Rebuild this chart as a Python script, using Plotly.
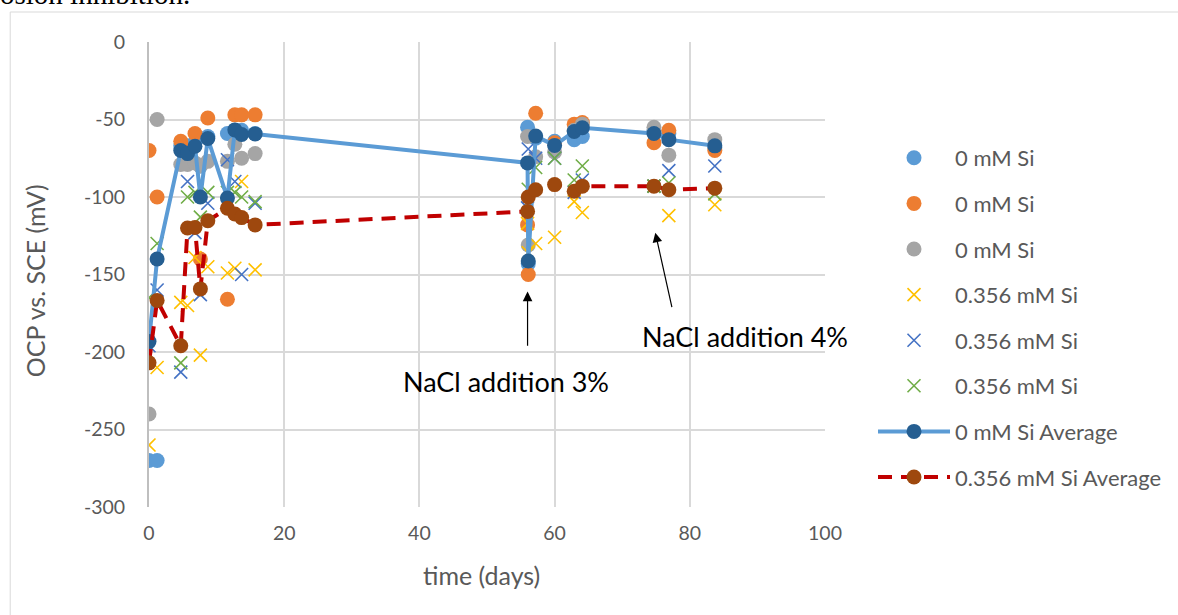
import plotly.graph_objects as go

# Measurement times (days)
days = [0, 1.2, 4.7, 5.7, 6.8, 7.6, 8.7, 11.6, 12.7, 13.7, 15.7,
        56.0, 56.1, 57.2, 60.0, 62.9, 64.1, 74.7, 76.9, 83.7]

# Open-circuit potential (mV vs. SCE), 0 mM Si replicates
si0_rep1 = [-270, -270, -67, -67, -65, -80, -61, -59, -57, -57, -59,
            -55, -143, -62, -64, -63, -61, -57, -59, -68]
si0_rep2 = [-70, -100, -64, -70, -59, -140, -49, -166, -47, -47, -47,
            -118, -150, -46, -65, -53, -52, -65, -57, -70]
si0_rep3 = [-240, -50, -79, -79, -78, -80, -77, -77, -66, -75, -72,
            -61, -131, -74, -71, -57, -53, -55, -73, -63]

# 0.356 mM Si replicates
si356_rep1 = [-260, -210, -168, -170, -139, -202, -145, -149, -146, -90, -147,
              -117, -136, -130, -126, -103, -110, -93, -112, -105]
si356_rep2 = [-196, -160, -213, -90, -123, -163, -104, -76, -90, -150, -104,
              -107, -69, -75, -75, -97, -89, -93, -83, -80]
si356_rep3 = [-165, -130, -207, -100, -97, -113, -97, -97, -97, -100, -103,
              -104, -95, -81, -75, -89, -80, -93, -91, -98]

# Averages of the three replicates
si0_avg = [-193.3, -140.0, -70.0, -72.0, -67.3, -100.0, -62.3, -100.7, -56.7, -59.7,
           -59.3, -78.0, -141.3, -60.7, -66.7, -57.7, -55.3, -59.0, -63.0, -67.0]
si356_avg = [-207.0, -166.7, -196.0, -120.0, -119.7, -159.3, -115.3, -107.3, -111.0,
             -113.3, -118.0, -109.3, -100.0, -95.3, -92.0, -96.3, -93.0, -93.0,
             -95.3, -94.3]

y_ticks = [0, -50, -100, -150, -200, -250, -300]
x_ticks = [0, 20, 40, 60, 80, 100]

FONT = "Lato"
TXT = "#595959"

fig = go.Figure()

circle_series = [
    ("0 mM Si", si0_rep1, "#5B9BD5"),
    ("0 mM Si", si0_rep2, "#ED7D31"),
    ("0 mM Si", si0_rep3, "#A5A5A5"),
]
cross_series = [
    ("0.356 mM Si", si356_rep1, "#FFC000"),
    ("0.356 mM Si", si356_rep2, "#4472C4"),
    ("0.356 mM Si", si356_rep3, "#70AD47"),
]

g = 0
for name, vals, col in circle_series:
    fig.add_trace(go.Scatter(
        x=days, y=vals, mode="markers", name=name, legendgroup=f"g{g}",
        marker=dict(symbol="circle", size=15, color=col, line=dict(width=0)),
    ))
    g += 1

for name, vals, col in cross_series:
    fig.add_trace(go.Scatter(
        x=days, y=vals, mode="markers", name=name, legendgroup=f"g{g}",
        marker=dict(symbol="x-thin", size=13, color=col,
                    line=dict(width=1.6, color=col)),
    ))
    g += 1

fig.add_trace(go.Scatter(
    x=days, y=si0_avg, mode="lines+markers", name="0 mM Si Average",
    legendgroup=f"g{g}",
    line=dict(color="#5B9BD5", width=4),
    marker=dict(symbol="circle", size=15, color="#255E91"),
))
g += 1
fig.add_trace(go.Scatter(
    x=days, y=si356_avg, mode="lines+markers", name="0.356 mM Si Average",
    legendgroup=f"g{g}",
    line=dict(color="#C00000", width=4, dash="14px,9px"),
    marker=dict(symbol="circle", size=15, color="#9E480E"),
))

W, H = 1178, 615
L, R, T, B = 149, 826, 42, 507


def px_x(p):
    return (p - L) / (R - L)


def px_y(p):
    return (B - p) / (B - T)


annotations = [
    # arrows pointing to the salt additions
    dict(x=56.0, y=-161, ax=56.0, ay=-197, xref="x", yref="y", axref="x", ayref="y",
         text="", showarrow=True, arrowhead=2, arrowsize=1.6, arrowwidth=1.2,
         arrowcolor="#000000"),
    dict(x=74.9, y=-123, ax=77.4, ay=-172, xref="x", yref="y", axref="x", ayref="y",
         text="", showarrow=True, arrowhead=2, arrowsize=1.6, arrowwidth=1.2,
         arrowcolor="#000000"),
    dict(x=px_x(507), y=px_y(381), xref="paper", yref="paper", text="NaCl addition 3%",
         xanchor="center", yanchor="middle", showarrow=False,
         font=dict(family=FONT, size=27, color="#000000")),
    dict(x=px_x(746), y=px_y(336), xref="paper", yref="paper", text="NaCl addition 4%",
         xanchor="center", yanchor="middle", showarrow=False,
         font=dict(family=FONT, size=27, color="#000000")),
    # axis titles
    dict(x=px_x(482), y=px_y(575), xref="paper", yref="paper", text="time (days)",
         xanchor="center", yanchor="middle", showarrow=False,
         font=dict(family=FONT, size=25, color=TXT)),
    dict(x=px_x(35), y=px_y(281), xref="paper", yref="paper", text="OCP vs. SCE (mV)",
         xanchor="center", yanchor="middle", showarrow=False, textangle=-90,
         font=dict(family=FONT, size=25, color=TXT)),
    # end of the preceding paragraph of the document
    dict(x=px_x(-2), y=px_y(12), xref="paper", yref="paper", xanchor="left",
         yanchor="bottom", text="osion inhibition.", showarrow=False,
         font=dict(family="Liberation Serif", size=29, color="#000000")),
]

shapes = [
    dict(type="line", xref="paper", yref="paper", x0=px_x(10), x1=px_x(10),
         y0=px_y(12), y1=px_y(640), line=dict(color="#D9D9D9", width=1)),
    dict(type="line", xref="paper", yref="paper", x0=px_x(10), x1=px_x(1200),
         y0=px_y(12), y1=px_y(12), line=dict(color="#D9D9D9", width=1)),
]

fig.update_layout(
    width=W, height=H,
    margin=dict(l=L, r=W - R, t=T, b=H - B),
    paper_bgcolor="white", plot_bgcolor="white",
    font=dict(family=FONT, size=19.5, color=TXT),
    showlegend=True,
    legend=dict(x=px_x(873), y=px_y(137), xanchor="left", yanchor="top",
                font=dict(family=FONT, size=22, color=TXT),
                itemwidth=72, tracegroupgap=14, bgcolor="rgba(0,0,0,0)"),
    annotations=annotations,
    shapes=shapes,
    xaxis=dict(range=[0, 100], tickvals=x_ticks, ticktext=[str(v) for v in x_ticks],
               showgrid=True, gridcolor="#D9D9D9", gridwidth=1.5, zeroline=False,
               showline=False, ticks="", ticklabelstandoff=12,
               tickfont=dict(family=FONT, size=19.5, color=TXT)),
    yaxis=dict(range=[-300, 0], tickvals=y_ticks, ticktext=[str(v) for v in y_ticks],
               showgrid=True, gridcolor="#D9D9D9", gridwidth=1.5, zeroline=False,
               showline=True, linecolor="#BFBFBF", linewidth=2, ticks="",
               ticklabelstandoff=18,
               tickfont=dict(family=FONT, size=19.5, color=TXT)),
)

fig.write_html("out.html")
